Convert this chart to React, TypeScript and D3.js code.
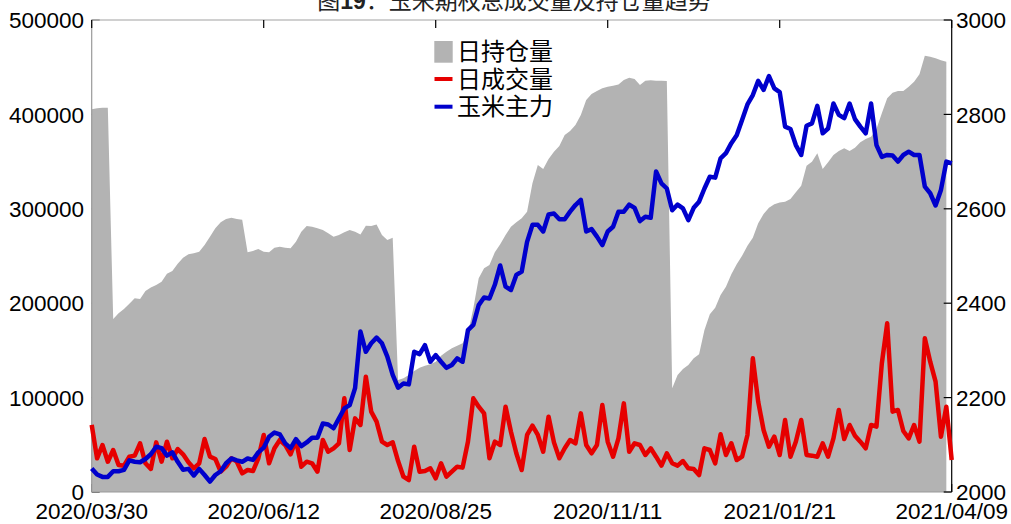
import React from 'react';
import * as d3 from 'd3';

const dateLabels = ['2020/03/30', '2020/06/12', '2020/08/25', '2020/11/11', '2021/01/21', '2021/04/09'];
const dateTickIndex = [0, 32, 64, 96, 128, 160];
const leftTicks = [0, 100000, 200000, 300000, 400000, 500000];
const rightTicks = [2000, 2200, 2400, 2600, 2800, 3000];
const titleText = '玉米期权总成交量及持仓量趋势';
const legendNames = ['日持仓量', '日成交量', '玉米主力'];

// 日持仓量 (left axis)
const openInterest = [
  405400, 406400, 407100, 407000, 183300, 189300, 193800, 199500, 205200, 204400, 212900, 216500, 219300, 222800, 231300, 234100, 241900, 248200, 251800, 252800, 254600, 261600, 270500, 279300, 285700, 289200, 290600, 289200, 288500, 253900, 255300, 257400, 254600,
  253900, 258800, 259900, 258800, 258100, 265200, 275800, 281800, 281100, 279300, 277500, 274000, 270500, 272200, 275100, 277500, 275800, 272900, 282100, 281800, 283500, 272200, 266900, 269400, 118600, 120400, 123900, 128200, 131700, 133800, 135200, 138100,
  144400, 148700, 152200, 155000, 157500, 168100, 194600, 226300, 236900, 240500, 253900, 262400, 272200, 281100, 285700, 289900, 297000, 327000, 346400, 342200, 352700, 360500, 366500, 378200, 382400, 388800, 399400, 415200, 421600, 424800, 427600, 429400,
  430400, 431800, 436400, 438900, 437500, 431100, 435700, 436100, 435700, 435700, 435400, 109800, 123900, 130300, 134500, 141600, 145800, 171600, 188200, 195300, 208700, 217500, 230600, 241200, 250300, 260900, 269400, 284600, 294500, 301200, 304700, 306800,
  307600, 310400, 317400, 324500, 345700, 349900, 358800, 342200, 349200, 357000, 361200, 364100, 361200, 364800, 370400, 373900, 376400, 384500, 401100, 417000, 423000, 424800, 424800, 429400, 434700, 442400, 462200, 461200, 459400, 457300, 455800,
];

// 日成交量 (left axis)
const volume = [
  71000, 35700, 49800, 32100, 44500, 28600, 27900, 37400, 38500, 51600, 30400, 24400, 52600, 32100, 53300, 35700, 45500, 39900, 31400, 25100, 30400, 56100, 37400, 35000, 21500, 26800, 35700, 32100, 19800, 23300, 22200, 35700, 60400,
  30400, 46300, 55100, 49800, 39900, 55100, 26800, 32100, 30400, 21500, 55100, 42700, 46300, 51600, 99200, 44500, 78000, 71000, 122200, 85100, 74500, 53300, 49800, 52600, 32800, 16200, 12700, 48000, 21500, 22200, 25100, 14500,
  30400, 16200, 21500, 26800, 25800, 53300, 99200, 90400, 83300, 35700, 53300, 49800, 90400, 63900, 41000, 23300, 60400, 70300, 60400, 42700, 79800, 52600, 35700, 46300, 55100, 51600, 83300, 49800, 41000, 49800, 92200, 53300,
  37400, 56800, 93900, 42700, 51600, 49800, 39200, 46300, 37400, 27900, 41000, 30400, 27900, 32800, 25100, 24400, 18000, 46300, 44500, 30400, 61100, 39200, 51600, 33900, 37400, 60400, 141600, 95700, 65700, 48000, 58600, 39200,
  76300, 37400, 53300, 76300, 39200, 38500, 37400, 51600, 37400, 56800, 86900, 56100, 71000, 59700, 53300, 46300, 71000, 69200, 136300, 178700, 85100, 86900, 64600, 56800, 71000, 53300, 162800, 138100, 116900, 58600, 90400, 33900,
];

// 玉米主力 (right axis)
const cornMain = [
  2050, 2037, 2032, 2032, 2044, 2044, 2047, 2067, 2064, 2063, 2070, 2080, 2096, 2093, 2077, 2084, 2064, 2047, 2049, 2035, 2049, 2036, 2022, 2036, 2044, 2061, 2071, 2067, 2064, 2071, 2068, 2084, 2094,
  2117, 2126, 2122, 2103, 2093, 2112, 2097, 2105, 2115, 2115, 2145, 2143, 2135, 2156, 2177, 2184, 2220, 2340, 2297, 2315, 2327, 2315, 2287, 2248, 2221, 2230, 2228, 2297, 2292, 2311, 2276, 2290,
  2276, 2263, 2269, 2283, 2276, 2343, 2354, 2396, 2412, 2410, 2439, 2480, 2435, 2428, 2460, 2467, 2530, 2566, 2566, 2552, 2588, 2590, 2578, 2578, 2594, 2608, 2619, 2552, 2557, 2541, 2523, 2552,
  2562, 2594, 2594, 2609, 2602, 2574, 2583, 2581, 2679, 2654, 2643, 2597, 2609, 2601, 2576, 2602, 2615, 2643, 2668, 2666, 2707, 2718, 2739, 2756, 2788, 2821, 2841, 2871, 2852, 2881, 2855, 2847,
  2774, 2769, 2735, 2714, 2776, 2781, 2818, 2760, 2770, 2823, 2799, 2792, 2823, 2790, 2774, 2760, 2823, 2735, 2710, 2714, 2713, 2700, 2714, 2721, 2714, 2714, 2647, 2633, 2607, 2640, 2700, 2696,
];

const NUM_FONT = '"Liberation Sans", Arial, Helvetica, sans-serif';
const CJK_FONT = '"Noto Sans CJK SC", "Noto Sans", sans-serif';

export default function App() {
  const W = 1011;
  const H = 524;
  const L = 91.7, R = 951.7, T = 20, B = 492;
  const n = cornMain.length;
  const x = d3.scaleLinear().domain([0, n - 1]).range([L, R]);
  const yL = d3.scaleLinear().domain([0, 500000]).range([B, T]);
  const yR = d3.scaleLinear().domain([2000, 3000]).range([B, T]);

  const areaGen = d3.area<number>().x((_, i) => x(i)).y0(yL(0)).y1((d) => yL(d));
  const lineL = d3.line<number>().x((_, i) => x(i)).y((d) => yL(d));
  const lineR = d3.line<number>().x((_, i) => x(i)).y((d) => yR(d));

  const red = '#e60000';
  const blue = '#0000cc';
  const grey = '#b3b3b3';

  return (
    <div style={{ position: 'absolute', left: 0, top: 0, width: W, height: H, background: '#fff' }}>
      <svg width={W} height={H} style={{ display: 'block' }}>
        <rect x={0} y={0} width={W} height={H} fill="#fff" />
        {/* title (partly cut off at top) */}
        <text x={514} y={9} textAnchor="middle" fontSize={23} fontFamily={CJK_FONT} fill="#222">
          图<tspan fontFamily={NUM_FONT} fontWeight="bold">19</tspan>：{titleText}
        </text>

        {/* left ticks (under area) */}
        {leftTicks.map((t) => (
          <line key={'lt' + t} x1={L} x2={L + 8} y1={yL(t)} y2={yL(t)} stroke="#000" strokeWidth={1.2} />
        ))}
        {/* bottom ticks (under area) */}
        {dateTickIndex.map((t) => (
          <line key={'bt' + t} x1={x(t)} x2={x(t)} y1={B} y2={B - 8} stroke="#000" strokeWidth={1.2} />
        ))}

        {/* open interest area */}
        <path d={areaGen(openInterest) || ''} fill={grey} stroke="none" />

        {/* frame */}
        <line x1={L} x2={R} y1={T} y2={T} stroke="#c0c0c0" strokeWidth={1.5} />
        <line x1={L} x2={R} y1={B} y2={B} stroke="#999" strokeWidth={1.2} />
        <line x1={L} x2={L} y1={T} y2={B} stroke="#999" strokeWidth={1.2} />
        <line x1={R} x2={R} y1={T} y2={B} stroke="#000" strokeWidth={1.2} />

        {/* top ticks */}
        {dateTickIndex.map((t) => (
          <line key={'tt' + t} x1={x(t)} x2={x(t)} y1={T} y2={T + 8} stroke="#000" strokeWidth={1.2} />
        ))}
        {/* right ticks */}
        {rightTicks.map((t) => (
          <line key={'rt' + t} x1={R - 8} x2={R} y1={yR(t)} y2={yR(t)} stroke="#000" strokeWidth={1.2} />
        ))}

        {/* volume line */}
        <path d={lineL(volume) || ''} fill="none" stroke={red} strokeWidth={4.5} strokeLinejoin="round" />
        {/* main contract line */}
        <path d={lineR(cornMain) || ''} fill="none" stroke={blue} strokeWidth={4.5} strokeLinejoin="round" />

        {/* left tick labels */}
        {leftTicks.map((t) => (
          <text key={'ll' + t} x={84} y={yL(t)} dy="0.36em" textAnchor="end" fontSize={22.5} fontFamily={NUM_FONT} fill="#000">
            {t}
          </text>
        ))}
        {/* right tick labels */}
        {rightTicks.map((t) => (
          <text key={'rl' + t} x={956} y={yR(t)} dy="0.36em" textAnchor="start" fontSize={22.5} fontFamily={NUM_FONT} fill="#000">
            {t}
          </text>
        ))}
        {/* x labels */}
        {dateTickIndex.map((t, i) => (
          <text key={'xl' + t} x={x(t)} y={519} textAnchor="middle" fontSize={22.5} fontFamily={NUM_FONT} fill="#000">
            {dateLabels[i]}
          </text>
        ))}

        {/* legend */}
        <g>
          <rect x={434.3} y={41} width={18.4} height={21.7} fill={grey} />
          <line x1={434.5} x2={452.5} y1={79} y2={79} stroke={red} strokeWidth={4} />
          <line x1={434.5} x2={452.5} y1={106.7} y2={106.7} stroke={blue} strokeWidth={4} />
          {legendNames.map((name, i) => (
            <text key={name} x={457} y={51.5 + i * 27.6} dy="0.36em" fontSize={24} fontFamily={CJK_FONT} fill="#000">
              {name}
            </text>
          ))}
        </g>
      </svg>
    </div>
  );
}
